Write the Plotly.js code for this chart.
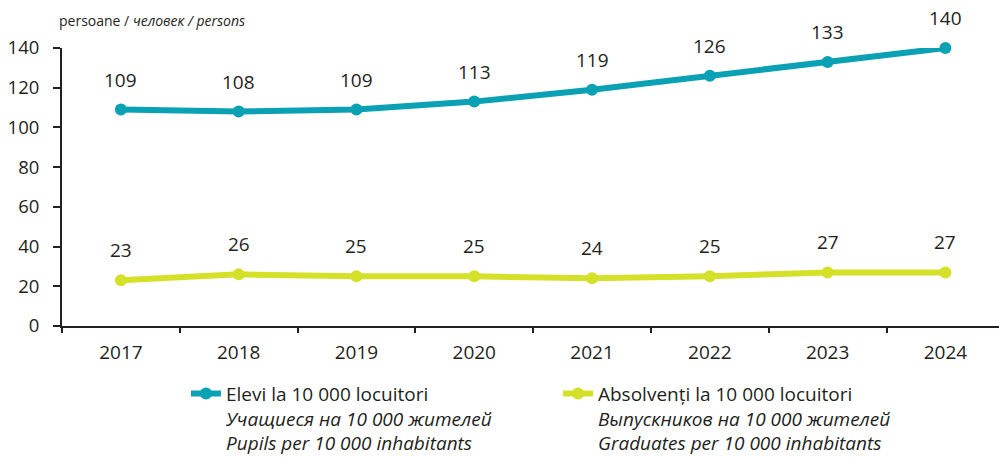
<!DOCTYPE html>
<html>
<head>
<meta charset="utf-8">
<script src="https://cdn.plot.ly/plotly-3.0.1.min.js"></script>
<style>html,body{margin:0;padding:0;background:#fff;}#chart{width:999px;height:457px;}</style>
</head>
<body>
<div id="chart"></div>
<script>
const years = ["2017","2018","2019","2020","2021","2022","2023","2024"];
const pupils = [109,108,109,113,119,126,133,140];
const graduates = [23,26,25,25,24,25,27,27];
const pupilsName = "Elevi la 10 000 locuitori<br><i>Учащиеся на 10 000 жителей</i><br><i>Pupils per 10 000 inhabitants</i>";
const gradsName = "Absolvenți la 10 000 locuitori<br><i>Выпускников на 10 000 жителей</i><br><i>Graduates per 10 000 inhabitants</i>";
const yTicks = [0,20,40,60,80,100,120,140];
const unitTitle = "persoane / <i>человек / persons</i>";

const teal = "#0aa1b5";
const lime = "#d5e129";
const ink = "#231f20";
const font = "Open Sans, sans-serif";

const traces = [
  {x: years, y: pupils, name: pupilsName, type: "scatter", mode: "lines+markers",
   line: {color: teal, width: 6}, marker: {color: teal, size: 12}, cliponaxis: false},
  {x: years, y: graduates, name: gradsName, type: "scatter", mode: "lines+markers",
   line: {color: lime, width: 6}, marker: {color: lime, size: 12}, cliponaxis: false}
];

const annotations = [];
[pupils, graduates].forEach(function (series) {
  series.forEach(function (v, i) {
    annotations.push({xref: "x", yref: "y", x: i, y: v, text: String(v), showarrow: false,
      yshift: 30, font: {family: font, size: 19, color: ink}});
  });
});
annotations.push({xref: "paper", yref: "paper", x: -0.0053, y: 1.1007, xanchor: "left", yanchor: "middle",
  text: unitTitle, showarrow: false, font: {family: font, size: 14, color: ink}});

const layout = {
  width: 999, height: 457,
  margin: {l: 62, r: 0, t: 48, b: 131, autoexpand: false},
  paper_bgcolor: "#fff", plot_bgcolor: "#fff",
  font: {family: font, color: ink, size: 18},
  showlegend: true,
  legend: {orientation: "h", x: 0.1323, y: -0.175, xanchor: "left", yanchor: "top",
    valign: "top", entrywidth: 327, entrywidthmode: "pixels",
    font: {family: font, size: 19, color: ink}, bgcolor: "rgba(0,0,0,0)"},
  xaxis: {type: "category", range: [-0.5, 7.455], showgrid: false, zeroline: false,
    showline: true, linecolor: ink, linewidth: 2, ticks: "outside", tickson: "boundaries",
    ticklen: 5, tickwidth: 2, tickcolor: ink, ticklabelstandoff: 8,
    tickfont: {family: font, size: 19, color: ink}, fixedrange: true},
  yaxis: {range: [0, 140], tickvals: yTicks, showgrid: false, zeroline: false,
    showline: true, linecolor: ink, linewidth: 2, ticks: "outside", ticklen: 7,
    tickwidth: 2, tickcolor: ink, ticklabelstandoff: 10,
    tickfont: {family: font, size: 18.5, color: ink}, fixedrange: true},
  annotations: annotations
};

Plotly.newPlot("chart", traces, layout, {displayModeBar: false, staticPlot: true});
</script>
</body>
</html>
